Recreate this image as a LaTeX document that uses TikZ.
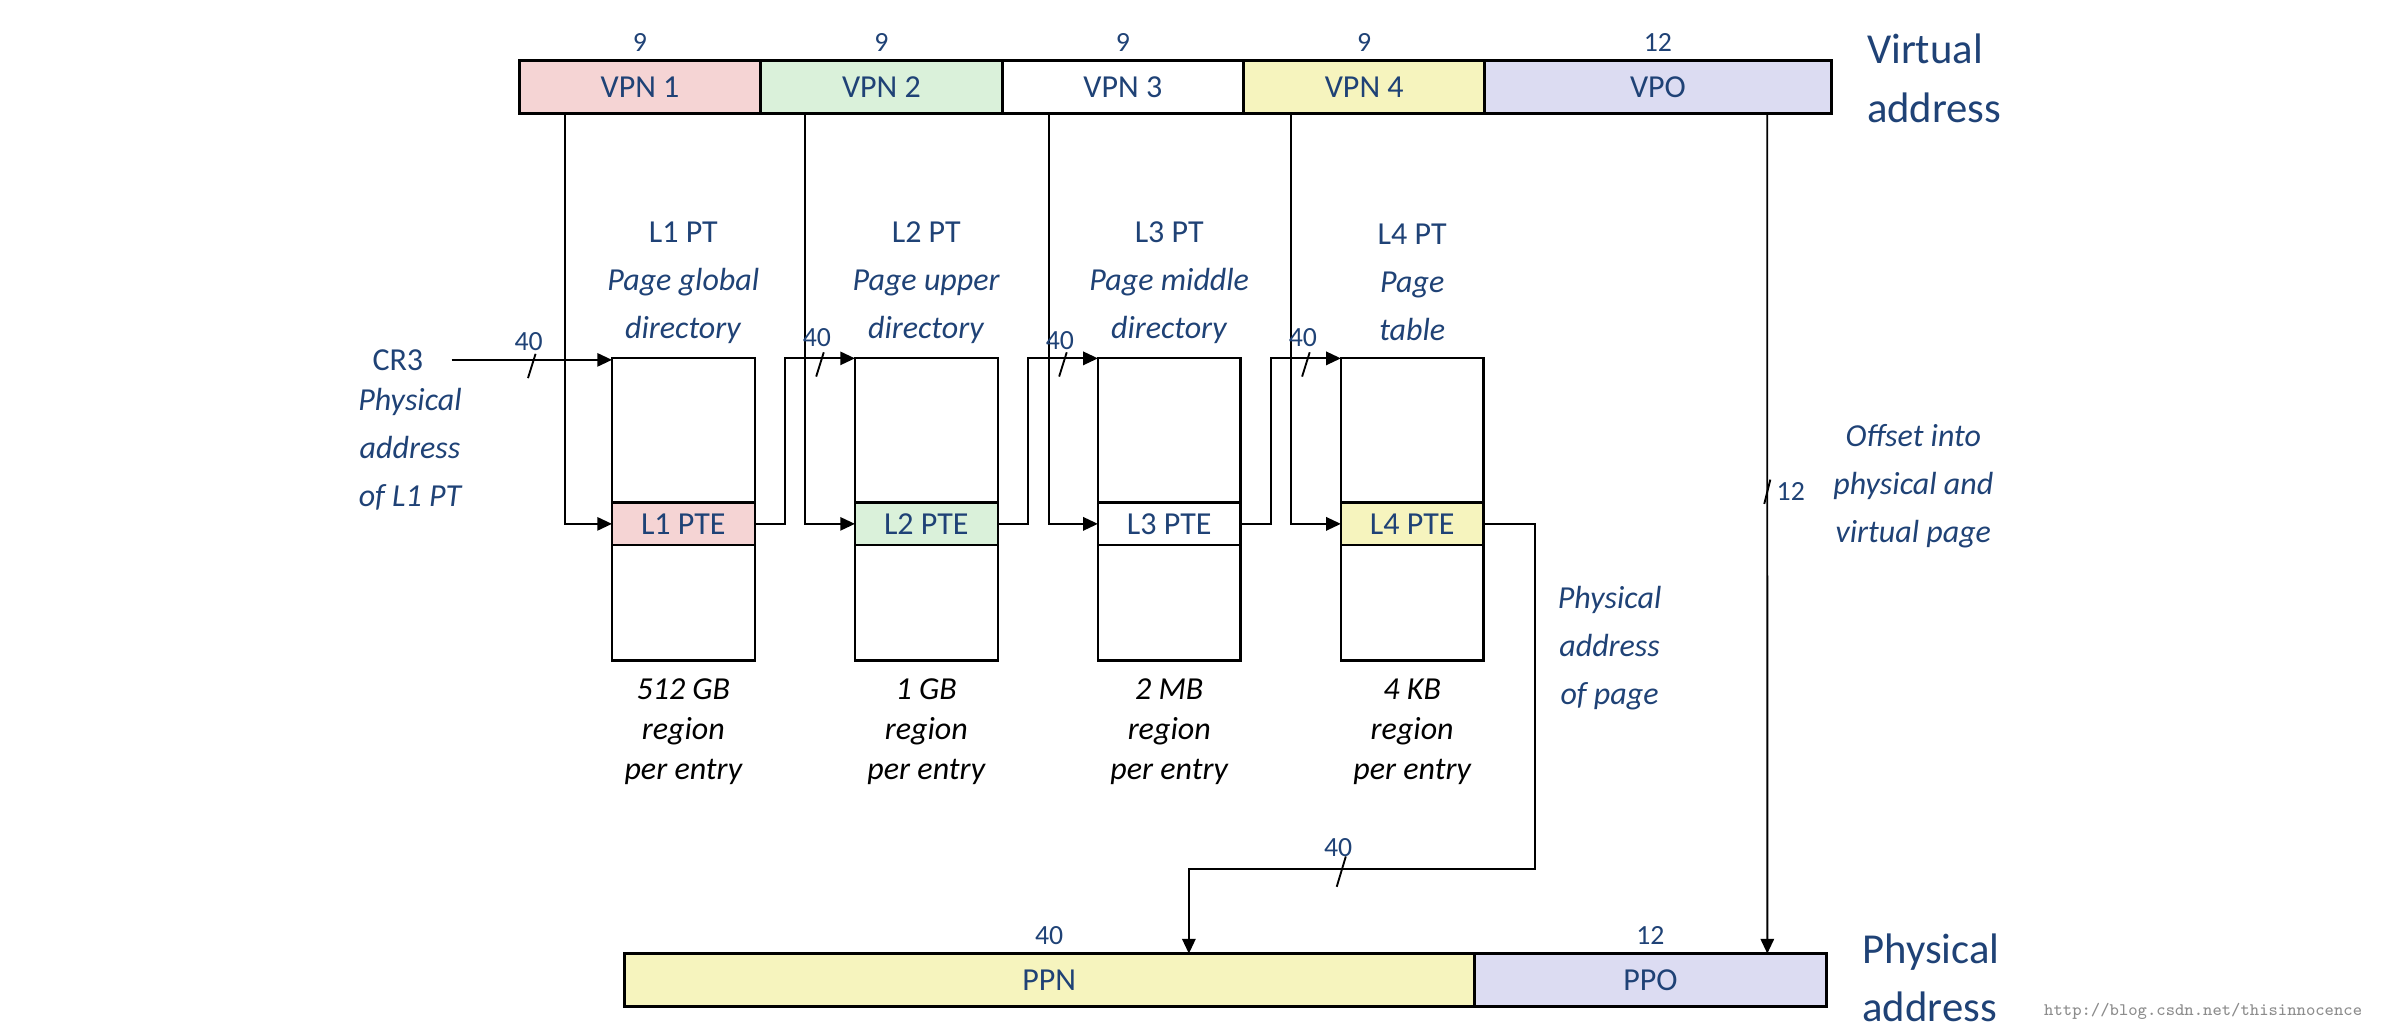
\documentclass[tikz,border=0pt]{standalone}
\usepackage{fontspec}
\setmainfont{Carlito}
\usetikzlibrary{positioning,arrows.meta}

\definecolor{txtblue}{RGB}{31,66,118}
\definecolor{vpnred}{RGB}{245,212,212}
\definecolor{vpngreen}{RGB}{218,241,218}
\definecolor{vpnyellow}{RGB}{246,244,190}
\definecolor{vpoblue}{RGB}{220,220,242}

\begin{document}
\begin{tikzpicture}[x=0.02cm,y=-0.02cm,
  field/.style={draw,line width=1.1pt,minimum height=0.7cm,inner sep=0pt,outer sep=0pt,anchor=north west,text=txtblue,font=\fontsize{12}{14}\selectfont},
  num/.style={text=txtblue,font=\fontsize{10.4}{12}\selectfont},
  tbl/.style={draw,line width=0.85pt,minimum width=1.88cm,minimum height=3.98cm,inner sep=0pt,outer sep=0pt,anchor=north west},
  pte/.style={tbl,minimum height=0.56cm,text=txtblue,font=\fontsize{12}{14}\selectfont},
  title/.style={align=center,text=txtblue,font=\fontsize{12}{18}\selectfont},
  note/.style={title,font=\fontsize{12}{18}\selectfont\itshape},
  region/.style={align=center,font=\fontsize{12}{15}\selectfont\itshape},
  big/.style={align=left,text=txtblue,font=\fontsize{16}{22}\selectfont},
  wmark/.style={text=black!45,font=\fontsize{6.6}{8}\selectfont\ttfamily},
  wire/.style={line width=0.7pt},
  arr/.style={wire,-{Triangle[length=5.5pt,width=5pt]}}]

\useasboundingbox (0,0) rectangle (1568,678);

% virtual address
\node[field,fill=vpnred,minimum width=3.18cm,label={[num]above:9}] (vpn1) at (342,40) {VPN 1};
\node[field,fill=vpngreen,minimum width=3.18cm,label={[num]above:9}] (vpn2) at (vpn1.north east) {VPN 2};
\node[field,fill=white,minimum width=3.18cm,label={[num]above:9}] (vpn3) at (vpn2.north east) {VPN 3};
\node[field,fill=vpnyellow,minimum width=3.18cm,label={[num]above:9}] (vpn4) at (vpn3.north east) {VPN 4};
\node[field,fill=vpoblue,minimum width=4.56cm,label={[num]above:12}] (vpo) at (vpn4.north east) {VPO};
\node[big,right=0.35cm of vpo,yshift=0.12cm] (va) {Virtual\\address};

% page tables
\node[tbl] (t1) at (403,236) {};
\node[tbl] (t2) at (563,236) {};
\node[tbl] (t3) at (723,236) {};
\node[tbl] (t4) at (883,236) {};
\node[pte,fill=vpnred] (p1) at (403,331) {L1 PTE};
\node[pte,fill=vpngreen] (p2) at (563,331) {L2 PTE};
\node[pte,fill=white] (p3) at (723,331) {L3 PTE};
\node[pte,fill=vpnyellow] (p4) at (883,331) {L4 PTE};

\node[title] (h1) at ([yshift=1cm]t1.north) {L1 PT\\\textit{Page global}\\\textit{directory}};
\node[title] (h2) at ([yshift=1cm]t2.north) {L2 PT\\\textit{Page upper}\\\textit{directory}};
\node[title] (h3) at ([yshift=1cm]t3.north) {L3 PT\\\textit{Page middle}\\\textit{directory}};
\node[title] (h4) at ([yshift=1cm]t4.north) {L4 PT\\\textit{Page}\\\textit{table}};

\node[region] (r1) at ([yshift=-0.94cm]t1.south) {512 GB\\region\\per entry};
\node[region] (r2) at ([yshift=-0.94cm]t2.south) {1 GB\\region\\per entry};
\node[region] (r3) at ([yshift=-0.94cm]t3.south) {2 MB\\region\\per entry};
\node[region] (r4) at ([yshift=-0.94cm]t4.south) {4 KB\\region\\per entry};

% CR3
\node[title] (cr3) at (262,237) {CR3};
\node[note] (cr3txt) at (270,296) {Physical\\address\\of L1 PT};
\draw[arr] ([xshift=0.25cm]cr3.east) -- coordinate[pos=0.5] (s0) (cr3.east -| t1.west);

% index lines
\draw[arr] ([xshift=0.6cm]vpn1.south west) |- (p1.west);
\draw[arr] ([xshift=0.58cm]vpn2.south west) |- (p2.west);
\draw[arr] ([xshift=0.62cm]vpn3.south west) |- (p3.west);
\draw[arr] ([xshift=0.62cm]vpn4.south west) |- (p4.west);

% next level
\draw[arr] (p1.east) -- ++(0.4cm,0) |- coordinate[pos=0.75] (s1) (t2.north west);
\draw[arr] (p2.east) -- ++(0.4cm,0) |- coordinate[pos=0.75] (s2) (t3.north west);
\draw[arr] (p3.east) -- ++(0.4cm,0) |- coordinate[pos=0.75] (s3) (t4.north west);

% physical address
\node[field,fill=vpnyellow,minimum width=11.2cm,label={[num]above:40}] (ppn) at (411,628) {PPN};
\node[field,fill=vpoblue,minimum width=4.64cm,label={[num]above:12}] (ppo) at (ppn.north east) {PPO};
\node[big,right=0.35cm of ppo,yshift=0.03cm] (pa) {Physical\\address};

\coordinate (bend) at (1011,572);
\draw[arr] (p4.east) -| (bend) -| coordinate[pos=0.28] (s4) ([xshift=7.44cm]ppn.north west);
\draw[arr] ([xshift=3.72cm]vpo.south west) -- coordinate[pos=0.45] (s5) ([xshift=3.86cm]ppo.north west);

\node[note] (pgaddr) at (1060,427) {Physical\\address\\of page};
\node[note] (offs) at (1260,320) {Offset into\\physical and\\virtual page};

% bus widths
\draw[wire] (s0) ++(2.5,-4) -- ++(-5,16);
\draw[wire] (s1) ++(2.5,-4) -- ++(-5,16);
\draw[wire] (s2) ++(2.5,-4) -- ++(-5,16);
\draw[wire] (s3) ++(2.5,-4) -- ++(-5,16);
\draw[wire] (s4) ++(3,-8) -- ++(-6,20);
\draw[wire] (s5) ++(2,-8) -- ++(-4,16);
\node[num] at ([shift={(-2,-12)}]s0) {40};
\node[num] at ([shift={(-2,-14)}]s1) {40};
\node[num] at ([shift={(-2,-12)}]s2) {40};
\node[num] at ([shift={(-2,-14)}]s3) {40};
\node[num] at ([shift={(-2,-14)}]s4) {40};
\node[num,anchor=west] at (s5) {12};

\node[wmark,anchor=base west] (url) at (1340,669) {http://blog.csdn.net/thisinnocence};

\end{tikzpicture}
\end{document}
